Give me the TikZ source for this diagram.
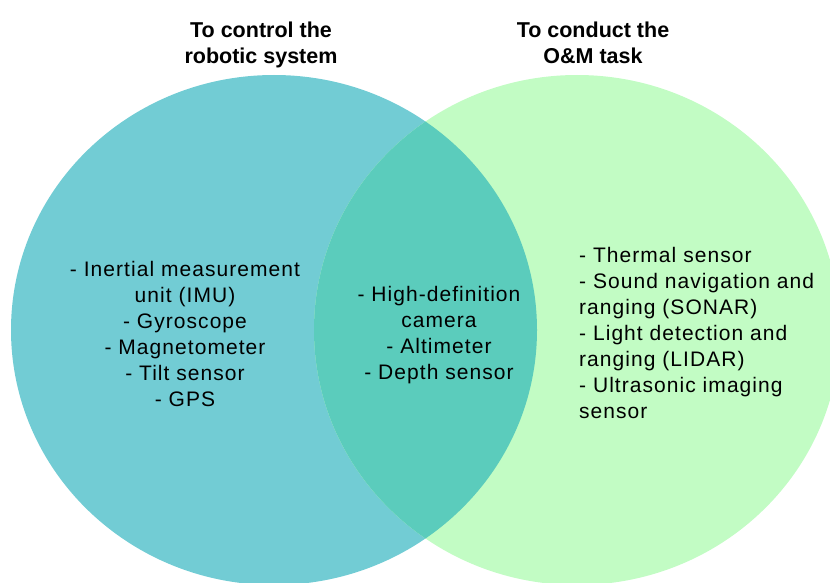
\documentclass[tikz,border=0pt]{standalone}
\usepackage{fontspec}
\setmainfont{Liberation Sans}
\newfontfamily\listfont[LetterSpace=5]{Liberation Sans}

\definecolor{ctrlcol}{RGB}{114,204,212}
\definecolor{taskcol}{RGB}{194,252,196}
\definecolor{bothcol}{RGB}{91,204,188}

\tikzset{
  heading/.style={anchor=base, inner sep=0pt, align=center, font=\fontsize{21.5}{26}\selectfont\bfseries},
  items/.style={anchor=base, inner sep=0pt, font=\listfont\fontsize{21}{26}\selectfont},
}

\begin{document}
\begin{tikzpicture}[x=1pt, y=-1pt]
  \useasboundingbox (0,0) rectangle (830,583);

  % Sets
  \coordinate (ctrl) at (274,330);
  \coordinate (task) at (577,330);
  \fill[ctrlcol] (ctrl) ellipse [x radius=263, y radius=255];
  \fill[taskcol] (task) ellipse [x radius=263, y radius=255];
  \begin{scope}
    \clip (ctrl) ellipse [x radius=263, y radius=255];
    \fill[bothcol] (task) ellipse [x radius=263, y radius=255];
  \end{scope}

  % Headings (base = last line)
  \node[heading] (ctrlhead) at (261,64) {To control the\\robotic system};
  \node[heading] (taskhead) at (593,64) {To conduct the\\O\&M task};

  % Sensors
  \node[items, align=center] (ctrlitems) at (185,406)
    {- Inertial measurement\\unit (IMU)\\- Gyroscope\\- Magnetometer\\- Tilt sensor\\- GPS};
  \node[items, align=center] (bothitems) at (439,379)
    {- High-definition\\camera\\- Altimeter\\- Depth sensor};
  \node[items, align=left, anchor=base west] (taskitems) at (579,418)
    {- Thermal sensor\\- Sound navigation and\\ranging (SONAR)\\- Light detection and\\ranging (LIDAR)\\- Ultrasonic imaging\\sensor};
\end{tikzpicture}
\end{document}
